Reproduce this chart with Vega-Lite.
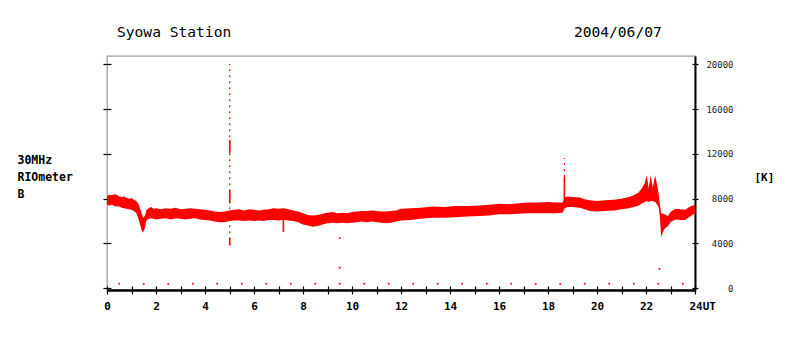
{
  "$schema": "https://vega.github.io/schema/vega-lite/v6.json",
  "autosize": {"type": "none"},
  "padding": {"left": 107, "top": 56, "right": 106, "bottom": 51},
  "width": 588,
  "height": 234,
  "background": "#ffffff",
  "config": {"view": {"stroke": "#a0a0a0", "strokeWidth": 1.3}},
  "title": {
    "text": "Syowa Station\u00a0\u00a0\u00a0\u00a0\u00a0\u00a0\u00a0\u00a0\u00a0\u00a0\u00a0\u00a0\u00a0\u00a0\u00a0\u00a0\u00a0\u00a0\u00a0\u00a0\u00a0\u00a0\u00a0\u00a0\u00a0\u00a0\u00a0\u00a0\u00a0\u00a0\u00a0\u00a0\u00a0\u00a0\u00a0\u00a0\u00a0\u00a0\u00a02004/06/07",
    "anchor": "start", "frame": "group", "dx": 10, "offset": 4,
    "font": "DejaVu Sans Mono", "fontSize": 14.6, "fontWeight": "normal", "color": "#000000", "baseline": "alphabetic"
  },
  "datasets": {
    "band": [
      {"t":0.0,"lo":7450,"hi":8250},{"t":0.1,"lo":7400,"hi":8350},{"t":0.2,"lo":7450,"hi":8300},{"t":0.3,"lo":7350,"hi":8400},
      {"t":0.4,"lo":7300,"hi":8350},{"t":0.5,"lo":7300,"hi":8200},{"t":0.6,"lo":7200,"hi":8150},{"t":0.7,"lo":7150,"hi":8200},
      {"t":0.8,"lo":7100,"hi":8050},{"t":0.9,"lo":7050,"hi":8000},{"t":1.0,"lo":7000,"hi":8050},{"t":1.1,"lo":6900,"hi":7900},
      {"t":1.2,"lo":6700,"hi":7800},{"t":1.3,"lo":6100,"hi":7450},{"t":1.4,"lo":5300,"hi":6800},{"t":1.47,"lo":4950,"hi":6300},
      {"t":1.55,"lo":5400,"hi":6500},{"t":1.6,"lo":6000,"hi":6950},{"t":1.7,"lo":6200,"hi":7150},{"t":1.8,"lo":6250,"hi":7250},
      {"t":1.9,"lo":6200,"hi":7100},{"t":2.0,"lo":6150,"hi":7150},{"t":2.2,"lo":6200,"hi":7050},{"t":2.4,"lo":6250,"hi":7150},
      {"t":2.6,"lo":6150,"hi":7100},{"t":2.8,"lo":6250,"hi":7200},{"t":3.0,"lo":6200,"hi":7050},{"t":3.2,"lo":6150,"hi":7100},
      {"t":3.4,"lo":6200,"hi":7150},{"t":3.6,"lo":6250,"hi":7100},{"t":3.8,"lo":6150,"hi":7050},{"t":4.0,"lo":6100,"hi":7000},
      {"t":4.2,"lo":6050,"hi":6950},{"t":4.4,"lo":5950,"hi":6850},{"t":4.6,"lo":5900,"hi":6800},{"t":4.8,"lo":5900,"hi":6850},
      {"t":5.0,"lo":6000,"hi":6950},{"t":5.2,"lo":6050,"hi":7000},{"t":5.4,"lo":6050,"hi":7050},{"t":5.6,"lo":6000,"hi":6950},
      {"t":5.8,"lo":6050,"hi":7050},{"t":6.0,"lo":6000,"hi":7000},{"t":6.2,"lo":6050,"hi":6950},{"t":6.4,"lo":6000,"hi":7000},
      {"t":6.6,"lo":6100,"hi":7050},{"t":6.8,"lo":6100,"hi":7150},{"t":7.0,"lo":6050,"hi":7100},{"t":7.2,"lo":6100,"hi":7150},
      {"t":7.4,"lo":6050,"hi":7050},{"t":7.6,"lo":6000,"hi":6950},{"t":7.8,"lo":5900,"hi":6850},{"t":8.0,"lo":5700,"hi":6700},
      {"t":8.2,"lo":5600,"hi":6550},{"t":8.4,"lo":5500,"hi":6500},{"t":8.6,"lo":5550,"hi":6550},{"t":8.8,"lo":5700,"hi":6650},
      {"t":9.0,"lo":5800,"hi":6750},{"t":9.2,"lo":5850,"hi":6800},{"t":9.4,"lo":5800,"hi":6700},{"t":9.6,"lo":5850,"hi":6750},
      {"t":9.8,"lo":5800,"hi":6700},{"t":10.0,"lo":5850,"hi":6800},{"t":10.2,"lo":5900,"hi":6850},{"t":10.4,"lo":5950,"hi":6900},
      {"t":10.6,"lo":5900,"hi":6900},{"t":10.8,"lo":5950,"hi":6950},{"t":11.0,"lo":5900,"hi":6900},{"t":11.2,"lo":5850,"hi":6850},
      {"t":11.4,"lo":5800,"hi":6850},{"t":11.6,"lo":5850,"hi":6900},{"t":11.8,"lo":5950,"hi":6950},{"t":12.0,"lo":6050,"hi":7100},
      {"t":12.4,"lo":6100,"hi":7150},{"t":12.8,"lo":6200,"hi":7200},{"t":13.3,"lo":6300,"hi":7300},{"t":13.8,"lo":6300,"hi":7250},
      {"t":14.2,"lo":6350,"hi":7350},{"t":14.7,"lo":6400,"hi":7350},{"t":15.2,"lo":6450,"hi":7400},{"t":15.6,"lo":6500,"hi":7450},
      {"t":16.0,"lo":6600,"hi":7550},{"t":16.4,"lo":6600,"hi":7500},{"t":16.8,"lo":6650,"hi":7600},{"t":17.2,"lo":6700,"hi":7650},
      {"t":17.6,"lo":6700,"hi":7650},{"t":18.0,"lo":6700,"hi":7700},{"t":18.3,"lo":6700,"hi":7650},{"t":18.6,"lo":6750,"hi":7650},
      {"t":18.68,"lo":7150,"hi":8100},{"t":18.8,"lo":7250,"hi":8200},{"t":19.0,"lo":7250,"hi":8150},{"t":19.3,"lo":7200,"hi":8100},
      {"t":19.5,"lo":7050,"hi":7950},{"t":19.7,"lo":6900,"hi":7850},{"t":20.0,"lo":6850,"hi":7800},{"t":20.3,"lo":6900,"hi":7850},
      {"t":20.7,"lo":6950,"hi":7900},{"t":21.0,"lo":7050,"hi":8000},{"t":21.3,"lo":7150,"hi":8150},{"t":21.5,"lo":7250,"hi":8300},
      {"t":21.7,"lo":7400,"hi":8550},{"t":21.85,"lo":7600,"hi":9000},{"t":21.95,"lo":7700,"hi":9400},{"t":22.03,"lo":7800,"hi":10100},
      {"t":22.11,"lo":7700,"hi":8900},{"t":22.19,"lo":7800,"hi":10100},{"t":22.28,"lo":7800,"hi":9000},{"t":22.37,"lo":7700,"hi":10100},
      {"t":22.45,"lo":7500,"hi":9300},{"t":22.52,"lo":7200,"hi":8400},{"t":22.56,"lo":6500,"hi":7600},{"t":22.62,"lo":4600,"hi":6700},
      {"t":22.75,"lo":5300,"hi":6600},{"t":22.9,"lo":5550,"hi":6450},{"t":23.0,"lo":5900,"hi":6800},{"t":23.2,"lo":6150,"hi":7100},
      {"t":23.4,"lo":6100,"hi":7050},{"t":23.6,"lo":6100,"hi":7000},{"t":23.8,"lo":6400,"hi":7300},{"t":24.0,"lo":6700,"hi":7450}
    ],
    "solid": [
      {"t":5.01,"a":12091,"b":13253},{"t":5.01,"a":7614,"b":8776},{"t":5.01,"a":3843,"b":4486},
      {"t":18.67,"a":7436,"b":9938},{"t":7.2,"a":5023,"b":6274}
    ],
    "dotted": [
      {"t":5.01,"a":3843,"b":20037},{"t":18.67,"a":9938,"b":11636}
    ],
    "dots": [
      {"t":0.5,"v":400},{"t":1.5,"v":400},{"t":2.5,"v":400},{"t":3.5,"v":400},{"t":4.5,"v":400},{"t":5.5,"v":400},
      {"t":6.5,"v":400},{"t":7.5,"v":400},{"t":8.5,"v":400},{"t":9.5,"v":400},{"t":10.5,"v":400},{"t":11.5,"v":400},
      {"t":12.5,"v":400},{"t":13.5,"v":400},{"t":14.5,"v":400},{"t":15.5,"v":400},{"t":16.5,"v":400},{"t":17.5,"v":400},
      {"t":18.5,"v":400},{"t":19.5,"v":400},{"t":20.5,"v":400},{"t":21.5,"v":400},{"t":22.5,"v":400},{"t":23.5,"v":400},
      {"t":9.5,"v":4486},{"t":9.5,"v":1832},{"t":22.55,"v":1716}
    ]
  },
  "resolve": {"scale": {"x": "shared", "y": "shared"}, "axis": {"x": "independent", "y": "independent"}},
  "layer": [
    {
      "data": {"name": "band"},
      "mark": {"type": "area", "color": "#ff0000", "opacity": 1, "interpolate": "linear"},
      "encoding": {
        "x": {"field": "t", "type": "quantitative",
              "scale": {"domain": [0, 24], "nice": false, "zero": false},
              "axis": {"orient": "bottom", "values": [0,1,2,3,4,5,6,7,8,9,10,11,12,13,14,15,16,17,18,19,20,21,22,23,24],
                       "tickSize": 4, "tickColor": "#000000", "tickWidth": 1.2, "domainColor": "#000000", "domainWidth": 2.5,
                       "labelExpr": "datum.value % 2 == 0 ? (datum.value == 24 ? '24UT' : datum.label) : ''",
                       "labelAlign": {"condition": {"test": "datum.value == 24", "value": "left"}, "value": "center"},
                       "labelOffset": {"condition": {"test": "datum.value == 24", "value": -6}, "value": 0},
                       "labelFont": "DejaVu Sans Mono", "labelFontWeight": "bold", "labelFontSize": 11, "labelColor": "#000000",
                       "labelBaseline": "top", "labelPadding": 6, "labelOverlap": false, "labelFlush": false,
                       "grid": false, "title": null}},
        "y": {"field": "hi", "type": "quantitative",
              "scale": {"domain": [-160, 20750], "nice": false, "zero": false},
              "axis": {"orient": "right", "values": [0,4000,8000,12000,16000,20000], "format": "d",
                       "tickSize": 3, "tickColor": "#000000", "tickWidth": 1.2, "domainColor": "#000000", "domainWidth": 2,
                       "labelAlign": "right", "labelPadding": 35, "labelBaseline": "middle",
                       "labelFont": "DejaVu Sans Mono", "labelFontSize": 9, "labelColor": "#222222",
                       "grid": false,
                       "title": "[K]", "titleAngle": 0, "titleAlign": "left", "titleBaseline": "alphabetic",
                       "titleX": 59, "titleY": 124, "titleFont": "DejaVu Sans Mono", "titleFontWeight": "bold",
                       "titleFontSize": 11, "titleColor": "#000000"}},
        "y2": {"field": "lo"}
      }
    },
    {
      "data": {"name": "dotted"},
      "mark": {"type": "rule", "color": "#ff0000", "strokeWidth": 1.2, "strokeDash": [2, 4]},
      "encoding": {
        "x": {"field": "t", "type": "quantitative", "axis": null},
        "y": {"field": "a", "type": "quantitative",
              "axis": {"orient": "right", "values": [0,4000,8000,12000,16000,20000], "tickSize": -3,
                       "tickColor": "#000000", "tickWidth": 1.2, "domain": false, "labels": false, "grid": false, "title": null}},
        "y2": {"field": "b"}
      }
    },
    {
      "data": {"name": "solid"},
      "mark": {"type": "rule", "color": "#ff0000", "strokeWidth": 1.6},
      "encoding": {
        "x": {"field": "t", "type": "quantitative",
              "axis": {"orient": "bottom", "values": [0,1,2,3,4,5,6,7,8,9,10,11,12,13,14,15,16,17,18,19,20,21,22,23,24],
                       "tickSize": -4, "tickColor": "#000000", "tickWidth": 1.2, "domain": false, "labels": false,
                       "grid": false, "title": null}},
        "y": {"field": "a", "type": "quantitative",
              "axis": {"orient": "left", "values": [0,4000,8000,12000,16000,20000], "tickSize": 4,
                       "tickColor": "#000000", "tickWidth": 1.2, "domain": false, "labels": false, "grid": false,
                       "title": ["30MHz", "RIOmeter", "B"], "titleAngle": 0, "titleAlign": "left", "titleBaseline": "alphabetic",
                       "titleX": -90, "titleY": 107, "titleLineHeight": 17, "titleFont": "DejaVu Sans Mono",
                       "titleFontWeight": "bold", "titleFontSize": 11.5, "titleColor": "#000000"}},
        "y2": {"field": "b"}
      }
    },
    {
      "data": {"name": "dots"},
      "mark": {"type": "square", "color": "#ff0000", "filled": true, "opacity": 1, "size": 3},
      "encoding": {
        "x": {"field": "t", "type": "quantitative", "axis": null},
        "y": {"field": "v", "type": "quantitative",
              "axis": {"orient": "left", "values": [0,4000,8000,12000,16000,20000], "tickSize": -4,
                       "tickColor": "#000000", "tickWidth": 1.2, "domain": false, "labels": false, "grid": false, "title": null}}
      }
    }
  ]
}
